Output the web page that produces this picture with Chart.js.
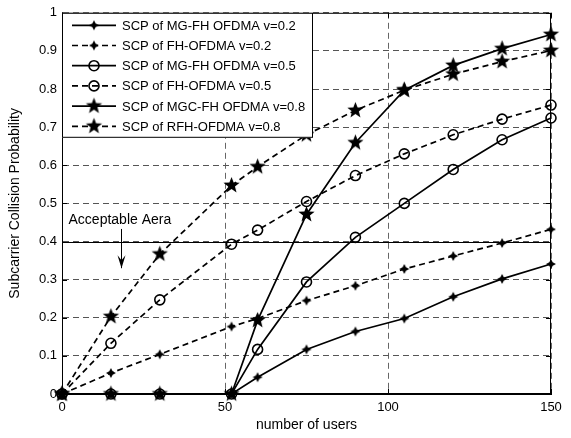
<!DOCTYPE html>
<html>
<head>
<meta charset="utf-8">
<script src="https://cdn.jsdelivr.net/npm/chart.js@4.4.0/dist/chart.umd.min.js"></script>
<style>
  html, body { margin: 0; padding: 0; background: #fff; }
  #wrap { width: 571px; height: 438px; }
</style>
</head>
<body>
<div id="wrap"><canvas id="chart"></canvas></div>
<script>
// number of users at each sample
const users = [0, 15, 30, 52, 60, 75, 90, 105, 120, 135, 150];

const mgfh02  = [0, 0, 0, 0, 0.044, 0.117, 0.164, 0.198, 0.255, 0.302, 0.341];
const fh02    = [0, 0.055, 0.104, 0.177, 0.198, 0.245, 0.284, 0.328, 0.362, 0.396, 0.432];
const mgfh05  = [0, 0, 0, 0, 0.117, 0.294, 0.411, 0.500, 0.589, 0.667, 0.724];
const fh05    = [0, 0.133, 0.247, 0.393, 0.430, 0.505, 0.573, 0.630, 0.680, 0.721, 0.758];
const mgcfh08 = [0, 0, 0, 0, 0.193, 0.471, 0.659, 0.797, 0.862, 0.906, 0.943];
const rfh08   = [0, 0.203, 0.367, 0.547, 0.596, 0.680, 0.744, 0.797, 0.839, 0.872, 0.901];

const seriesLabels = [
  'SCP of MG-FH OFDMA v=0.2',
  'SCP of FH-OFDMA v=0.2',
  'SCP of MG-FH OFDMA v=0.5',
  'SCP of FH-OFDMA v=0.5',
  'SCP of MGC-FH OFDMA v=0.8',
  'SCP of RFH-OFDMA v=0.8'
];

const xTicks = [0, 50, 100, 150];
const acceptableLevel = 0.4;
const acceptableText = 'Acceptable Aera';

const FONT = '"Liberation Sans", Arial, Helvetica, sans-serif';

function starMarker(points, outer, inner) {
  const size = Math.ceil(outer * 2 + 2);
  const c = document.createElement('canvas');
  c.width = size; c.height = size;
  const g = c.getContext('2d');
  const cx = size / 2, cy = size / 2;
  g.beginPath();
  for (let i = 0; i < points * 2; i++) {
    const r = i % 2 === 0 ? outer : inner;
    const a = -Math.PI / 2 + i * Math.PI / points;
    const px = cx + r * Math.cos(a), py = cy + r * Math.sin(a);
    if (i === 0) g.moveTo(px, py); else g.lineTo(px, py);
  }
  g.closePath();
  g.fillStyle = '#000';
  g.fill();
  return c;
}

const smallStar = starMarker(4, 5, 2.4);
const bigStar = starMarker(5, 8.5, 3.6);

const solid = [];
const dashed = [6, 4];

function series(label, values, dash, marker) {
  return {
    label: label,
    data: values.map((v, i) => ({ x: users[i], y: v })),
    borderColor: '#000',
    borderWidth: 1.7,
    borderDash: dash,
    tension: 0,
    clip: false,
    pointStyle: marker,
    pointRadius: 5,
    pointBorderColor: '#000',
    pointBackgroundColor: 'rgba(0,0,0,0)',
    pointBorderWidth: 1.6
  };
}

const datasets = [
  series(seriesLabels[0], mgfh02, solid, smallStar),
  series(seriesLabels[1], fh02, dashed, smallStar),
  series(seriesLabels[2], mgfh05, solid, 'circle'),
  series(seriesLabels[3], fh05, dashed, 'circle'),
  series(seriesLabels[4], mgcfh08, solid, bigStar),
  series(seriesLabels[5], rfh08, dashed, bigStar)
];

// frame, inward ticks, threshold line and annotation
const framePlugin = {
  id: 'frame',
  beforeDatasetsDraw(chart) {
    const { ctx, chartArea: a, scales: { x, y } } = chart;
    ctx.save();
    const yl = Math.round(y.getPixelForValue(acceptableLevel)) + 0.5;
    ctx.strokeStyle = '#000';
    ctx.lineWidth = 1.2;
    ctx.beginPath();
    ctx.moveTo(a.left, yl);
    ctx.lineTo(a.right, yl);
    ctx.stroke();

    ctx.font = '14px ' + FONT;
    ctx.fillStyle = '#000';
    ctx.textBaseline = 'middle';
    ctx.textAlign = 'left';
    ctx.fillText(acceptableText, x.getPixelForValue(2), y.getPixelForValue(0.456));

    const ax = Math.round(x.getPixelForValue(18)) + 0.5;
    const ay0 = y.getPixelForValue(0.433);
    const ay1 = y.getPixelForValue(0.33);
    ctx.lineWidth = 1;
    ctx.beginPath();
    ctx.moveTo(ax, ay0);
    ctx.lineTo(ax, ay1);
    ctx.stroke();
    ctx.beginPath();
    ctx.moveTo(ax - 4, ay1 - 13);
    ctx.lineTo(ax, ay1);
    ctx.lineTo(ax + 4, ay1 - 13);
    ctx.lineTo(ax, ay1 - 8);
    ctx.closePath();
    ctx.fill();
    ctx.restore();
  },
  afterDraw(chart) {
    const { ctx, chartArea: a, scales: { x, y } } = chart;
    ctx.save();
    ctx.strokeStyle = '#000';
    ctx.lineWidth = 1;
    ctx.strokeRect(a.left + 0.5, a.top + 0.5, a.right - a.left - 1, a.bottom - a.top - 1);
    ctx.beginPath();
    y.ticks.forEach(t => {
      const py = Math.round(y.getPixelForValue(t.value)) + 0.5;
      ctx.moveTo(a.left, py); ctx.lineTo(a.left + 5, py);
      ctx.moveTo(a.right, py); ctx.lineTo(a.right - 5, py);
    });
    x.ticks.forEach(t => {
      const px = Math.round(x.getPixelForValue(t.value)) + 0.5;
      ctx.moveTo(px, a.bottom); ctx.lineTo(px, a.bottom - 5);
      ctx.moveTo(px, a.top); ctx.lineTo(px, a.top + 5);
    });
    ctx.stroke();

    // legend box
    const lx = a.left, ly = a.top, lw = 251, lh = 125;
    ctx.fillStyle = '#fff';
    ctx.fillRect(lx, ly, lw, lh);
    ctx.strokeRect(lx + 0.5, ly + 0.5, lw - 1, lh - 1);
    ctx.font = '13px ' + FONT;
    ctx.textBaseline = 'middle';
    ctx.textAlign = 'left';
    chart.data.datasets.forEach((ds, i) => {
      const cy = ly + 12.5 + i * 20.2;
      ctx.save();
      ctx.strokeStyle = '#000';
      ctx.lineWidth = 1.7;
      ctx.setLineDash(ds.borderDash);
      ctx.beginPath();
      ctx.moveTo(lx + 10, cy);
      ctx.lineTo(lx + 54, cy);
      ctx.stroke();
      ctx.restore();
      ctx.save();
      ctx.strokeStyle = '#000';
      ctx.fillStyle = 'rgba(0,0,0,0)';
      ctx.lineWidth = 1.6;
      Chart.helpers.drawPoint(ctx, { pointStyle: ds.pointStyle, radius: ds.pointRadius, rotation: 0, borderWidth: 1.6 }, lx + 32, cy);
      ctx.restore();
      ctx.fillStyle = '#000';
      ctx.fillText(ds.label, lx + 60, cy + 1);
    });
    ctx.restore();
  }
};

new Chart(document.getElementById('chart'), {
  type: 'line',
  data: { datasets: datasets },
  plugins: [framePlugin],
  options: {
    responsive: true,
    maintainAspectRatio: false,
    animation: false,
    layout: { padding: { top: 10, right: 20, left: 0, bottom: 0 } },
    plugins: { legend: { display: false }, tooltip: { enabled: false } },
    scales: {
      x: {
        type: 'linear',
        min: 0,
        max: 150,
        afterBuildTicks: s => { s.ticks = xTicks.map(v => ({ value: v })); },
        afterFit: s => { s.height = 44; },
        ticks: { color: '#000', font: { family: FONT, size: 13 }, padding: 6, maxRotation: 0 },
        grid: { color: '#666', drawTicks: false },
        border: { color: '#000', dash: [6, 4] },
        title: { display: true, text: 'number of users', color: '#000', font: { family: FONT, size: 14 }, padding: { top: 0, bottom: 4 } }
      },
      y: {
        min: 0,
        max: 1,
        afterFit: s => { s.width = 62; },
        ticks: {
          stepSize: 0.1,
          color: '#000',
          font: { family: FONT, size: 13 },
          padding: 5,
          callback: v => String(+v.toFixed(1))
        },
        grid: { color: '#555', drawTicks: false },
        border: { color: '#000', dash: [6, 4] },
        title: { display: true, text: 'Subcarrier Collision Probability', color: '#000', font: { family: FONT, size: 14 }, padding: { top: 7, bottom: 0 } }
      }
    }
  }
});
</script>
</body>
</html>
